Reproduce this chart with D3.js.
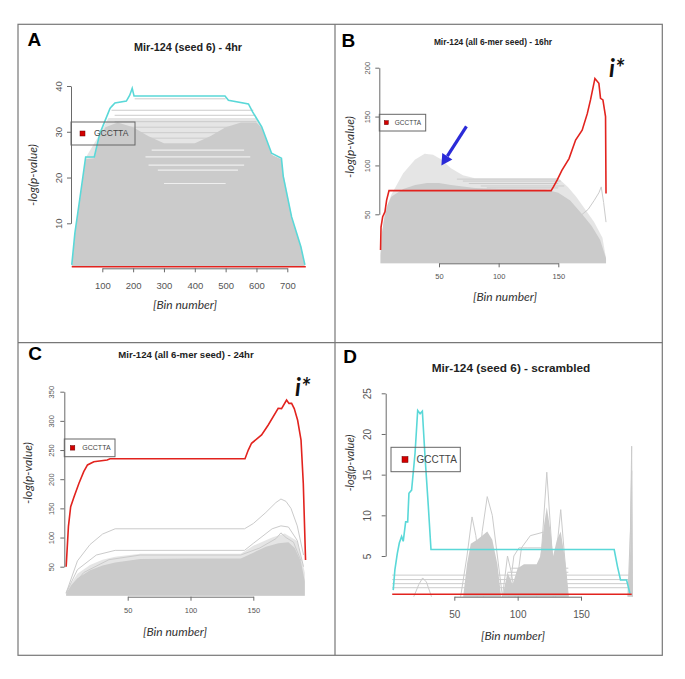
<!DOCTYPE html>
<html>
<head>
<meta charset="utf-8">
<script src="https://cdn.jsdelivr.net/npm/d3@7"></script>
<style>
body { margin: 0; background: #fff; }
</style>
</head>
<body>
<svg id="fig" width="685" height="679"></svg>
<script>

// ---- panel A : Mir-124 (seed 6) - 4hr ----
var aRed = [[1, 0.5], [760, 0.5]];
var aCyan = [[1, 0.9], [11, 7.8], [28, 15.8], [46, 24.5], [74, 24.5], [92, 29.6], [125, 35.1], [130, 35.5], [141, 36.3], [178, 36.7], [189, 38], [197, 39.5], [203, 37.8], [498, 37.8], [509, 36.9], [574, 36.1], [587, 34.4], [617, 31.1], [633, 28.2], [649, 25.3], [681, 24.2], [687, 20.2], [714, 11.4], [744, 4.9], [757, 0.9]];
var aDense = [[1, 0.5], [11, 7.5], [28, 15.5], [46, 24], [74, 24.2], [92, 29], [110, 31], [150, 32], [200, 31], [250, 29], [300, 27.5], [400, 27.5], [450, 29], [500, 31], [550, 32], [600, 32], [617, 30.8], [633, 28], [649, 25], [681, 24], [687, 20], [714, 11.2], [744, 4.8], [757, 0.5]];
var aSparse = [[1, 0.5], [46, 24.3], [92, 29.5], [120, 33], [600, 33], [617, 31], [650, 25.2], [690, 20], [715, 11.3], [745, 4.9], [758, 0.5]];
var aFlat = [[37.2, 205, 500], [34.7, 130, 590], [33.6, 140, 595], [32.2, 140, 600], [31.0, 120, 610], [29.8, 110, 620], [28.6, 100, 630]];
var aGap = [[26.0, 260, 560], [24.5, 240, 580], [22.7, 250, 560], [21.6, 280, 540], [18.7, 300, 500]];

// ---- panel B : Mir-124 (all 6-mer seed) - 16hr ----
var bRed = [[1, 13.5], [1.4, 37], [2.8, 47.6], [4.7, 52.6], [6.1, 64.6], [8.1, 74.2], [144, 74.2], [146, 78.3], [149, 85], [153, 95], [159, 107], [164.5, 126], [170, 136], [174.3, 153], [177, 167], [180.7, 189], [184, 184], [185.4, 168.6], [187.4, 167], [189.6, 150], [190, 71.4]];
var bDense = [[1, 8], [2, 30], [4, 45], [7, 60], [10, 68], [20, 76], [30, 80], [40, 82], [50, 82], [60, 80], [80, 77], [100, 76], [140, 75], [150, 72], [160, 64], [170, 50], [178, 38], [185, 24], [190, 5]];
var bSparse = [[1, 10], [4, 50], [10, 70], [20, 92], [30, 106], [38, 112], [45, 111], [52, 106], [60, 97], [70, 90], [80, 87], [150, 87], [158, 78], [165, 68], [172, 56], [180, 42], [187, 26], [190, 5]];
var bFlat = [[86, 65, 150], [84, 70, 152], [81.5, 75, 150], [79, 85, 155], [77, 90, 150]];
var bRise = [[168, 48], [175, 55], [180, 64], [184, 72], [186, 78], [188, 62], [190, 42]];
var bArrow = [[73, 140], [52, 100]];

// ---- panel C : Mir-124 (all 6-mer seed) - 24hr ----
var cRed = [[1, 50], [2.8, 118.7], [4.6, 153], [7.3, 170], [11.2, 193], [15, 213], [18, 224.4], [23, 230], [33.6, 233], [36, 235], [143.4, 235], [146, 250], [148.6, 261.6], [156.6, 275.8], [161.9, 293], [169.8, 321.6], [172.5, 321], [176.5, 335.8], [178.4, 330], [180.5, 330], [182.6, 321], [185.3, 301], [188, 267], [189.8, 193], [191.6, 61.5]];
var cDense = [[1, 3], [5, 18], [10, 30], [20, 44], [30, 52], [40, 57], [50, 60], [60, 63], [100, 64], [140, 64], [150, 74], [160, 84], [170, 90], [178, 92], [183, 82], [188, 58], [191, 25]];
var cSparse = [[1, 8], [10, 38], [20, 53], [30, 62], [40, 67], [60, 72], [140, 72], [150, 86], [165, 100], [175, 107], [185, 94], [191, 40]];
var cLine1 = [[1, 5], [10, 60], [20, 88], [30, 106], [40, 115], [143, 115], [150, 124], [160, 143], [168, 160], [172, 166], [176, 162], [180, 150], [185, 120], [190, 70]];
var cLine2 = [[1, 5], [10, 45], [25, 70], [40, 78], [143, 78], [150, 90], [165, 115], [172, 120], [178, 118], [185, 95], [190, 50]];
var cLine3 = [[1, 4], [15, 40], [35, 62], [60, 70], [140, 70], [155, 82], [168, 98], [172, 108], [176, 100], [182, 92], [188, 60]];

// ---- panel D : Mir-124 (seed 6) - scrambled ----
var dRed = [[1, 0.3], [190, 0.3]];
var dCyan = [[1.8, 0.8], [3.1, 3.3], [5, 5.3], [6.6, 6.6], [8.4, 7.4], [9.7, 6.8], [11.6, 9.2], [13.2, 9.2], [14.2, 12.7], [16.3, 13.1], [19, 17.6], [21.1, 22.9], [23, 22.5], [24.8, 22.8], [26.9, 17.2], [29.5, 11.1], [31.6, 5.8], [176.2, 5.8], [178.8, 3.7], [181.2, 2.05], [186, 2.05], [188.6, 0.4]];
var dFlat = [[2.65, 1, 190], [2.1, 1, 190], [1.6, 1, 190], [1.1, 1, 190], [3.5, 95, 140], [3.0, 92, 140]];
var dDense1 = [[57, 0], [60, 4], [63, 6.5], [68, 7], [72, 7.5], [76, 8], [80, 7], [84, 4], [87, 0]];
var dDense2 = [[88, 0], [92, 3], [96, 1.5], [100, 3.5], [105, 4], [115, 4], [118, 5], [121, 9], [123, 11], [126, 8], [128, 5], [131, 7], [134, 8], [137, 5], [140, 0]];
var dDense3 = [[187, 0], [189, 6], [190, 12], [190.6, 0]];
var dPeaks = [
    [[55, 0], [60, 5], [64, 9.8], [67, 7.5], [70, 4], [73, 0]],
    [[68, 0], [72, 8], [76, 12.3], [80, 10], [84, 5], [88, 0]],
    [[115, 0], [119, 6], [123, 15.3], [127, 6], [130, 0]],
    [[128, 0], [131, 6], [134, 10.7], [137, 5], [140, 0]],
    [[93, 0], [97, 5], [101, 6], [108, 6], [125, 6], [130, 3]],
    [[98, 0], [103, 6], [110, 7.5], [122, 8], [126, 4]],
    [[88, 0], [92, 5], [95, 3], [98, 0]],
    [[18, 0], [22, 1.5], [25, 2.3], [28, 1.8], [32, 0]],
    [[187, 0], [189, 8], [190, 18.5], [190.5, 0]],
    [[188, 0], [190, 15.5], [190.5, 0]]
];

var svg = d3.select("#fig");

var GREY = "#cbcbcb";
var RED = "#e2231e";
var CYAN = "#5ad8d8";

// frame: outer box and the cross
svg.append("rect")
    .attr("x", 18).attr("y", 24.3)
    .attr("width", 644.3).attr("height", 631)
    .attr("fill", "none").attr("stroke", "#777").attr("stroke-width", 1.2);
svg.append("line").attr("x1", 335).attr("x2", 335).attr("y1", 24.3).attr("y2", 655.3)
    .attr("stroke", "#777").attr("stroke-width", 1.2);
svg.append("line").attr("x1", 18).attr("x2", 662.3).attr("y1", 342.7).attr("y2", 342.7)
    .attr("stroke", "#777").attr("stroke-width", 1.2);

function drawPanel(p) {

    var x = d3.scaleLinear().domain(p.xDom).range(p.xPx);
    var y = d3.scaleLinear().domain(p.yDom).range(p.yPx);
    var g = svg.append("g");

    var line = d3.line().x(function (d) { return x(d[0]); }).y(function (d) { return y(d[1]); });
    var area = d3.area()
        .x(function (d) { return x(d[0]); })
        .y0(y(p.base))
        .y1(function (d) { return y(d[1]); });

    if (p.sparse) {
        g.append("path").datum(p.sparse).attr("d", area)
            .attr("fill", GREY).attr("opacity", 0.5);
    }

    (p.flat || []).forEach(function (f) {
        g.append("line")
            .attr("x1", x(f[1])).attr("x2", x(f[2]))
            .attr("y1", y(f[0])).attr("y2", y(f[0]))
            .attr("stroke", GREY).attr("stroke-width", 1);
    });

    (p.lines || []).forEach(function (l) {
        g.append("path").datum(l).attr("d", line)
            .attr("fill", "none").attr("stroke", GREY).attr("stroke-width", 1);
    });

    (p.dense || []).forEach(function (a) {
        g.append("path").datum(a).attr("d", area).attr("fill", GREY);
    });

    (p.gaps || []).forEach(function (f) {
        g.append("line")
            .attr("x1", x(f[1])).attr("x2", x(f[2]))
            .attr("y1", y(f[0])).attr("y2", y(f[0]))
            .attr("stroke", "#fff").attr("stroke-width", 1.2).attr("opacity", 0.7);
    });

    if (p.cyan) {
        g.append("path").datum(p.cyan).attr("d", line)
            .attr("fill", "none").attr("stroke", CYAN).attr("stroke-width", 1.6);
    }
    g.append("path").datum(p.red).attr("d", line)
        .attr("fill", "none").attr("stroke", RED).attr("stroke-width", 1.6);

    // axes, R style : line from first tick to last tick
    var xa = g.append("g")
        .attr("transform", "translate(0," + p.xAxisY + ")")
        .call(d3.axisBottom(x).tickValues(p.xTicks).tickSize(4).tickSizeOuter(0));
    xa.selectAll("text")
        .attr("y", p.xLabOff)
        .style("font-family", "'Liberation Sans', Arial, sans-serif")
        .style("font-size", p.tickFont + "px")
        .attr("fill", "#555");

    var ya = g.append("g")
        .attr("transform", "translate(" + p.yAxisX + ",0)")
        .call(d3.axisLeft(y).tickValues(p.yTicks).tickSize(4).tickSizeOuter(0));
    ya.selectAll("text")
        .attr("x", null).attr("dy", null)
        .attr("text-anchor", "middle")
        .attr("transform", "translate(" + (-p.yLabOff) + ",0) rotate(-90)")
        .style("font-family", "'Liberation Sans', Arial, sans-serif")
        .style("font-size", p.tickFont + "px")
        .attr("fill", "#555");
    g.selectAll(".domain, .tick line").attr("stroke", "#6a6a6a");

    // titles
    g.append("text")
        .attr("x", p.titleX).attr("y", p.titleY)
        .attr("text-anchor", "middle")
        .style("font-family", "'Liberation Sans', Arial, sans-serif")
        .style("font-weight", "bold")
        .style("font-size", p.titleFont + "px")
        .attr("fill", "#222")
        .text(p.title);

    g.append("text")
        .attr("x", p.letterX).attr("y", p.letterY)
        .style("font-family", "'Liberation Sans', Arial, sans-serif")
        .style("font-weight", "bold")
        .style("font-size", "19px")
        .text(p.letter);

    g.append("text")
        .attr("x", p.xTitle[0]).attr("y", p.xTitle[1])
        .attr("text-anchor", "middle")
        .style("font-family", "Lato, 'Open Sans', sans-serif")
        .style("font-style", "italic")
        .style("font-size", "12px")
        .attr("fill", "#333")
        .text("[Bin number]");

    g.append("text")
        .attr("transform", "translate(" + p.yTitle[0] + "," + p.yTitle[1] + ") rotate(-90)")
        .attr("text-anchor", "middle")
        .style("font-family", "Lato, 'Open Sans', sans-serif")
        .style("font-style", "italic")
        .style("font-size", p.yTitleFont + "px")
        .attr("fill", "#333")
        .text("-log(p-value)");

    // legend (transparent box)
    var L = p.legend;
    g.append("rect")
        .attr("x", L.x).attr("y", L.y).attr("width", L.w).attr("height", L.h)
        .attr("fill", "none").attr("stroke", "#666").attr("stroke-width", 1);
    g.append("rect")
        .attr("x", L.x + L.sq).attr("y", L.y + L.h / 2 - L.s / 2)
        .attr("width", L.s).attr("height", L.s)
        .attr("fill", "#d40000").attr("stroke", "#600").attr("stroke-width", 0.5);
    g.append("text")
        .attr("x", L.x + L.tx).attr("y", L.y + L.h / 2)
        .attr("dy", "0.35em")
        .style("font-family", "'Liberation Sans', Arial, sans-serif")
        .style("font-size", L.font + "px")
        .attr("fill", "#444")
        .text("GCCTTA");

    if (p.istar) {
        g.append("text")
            .attr("x", p.istar[0]).attr("y", p.istar[1])
            .style("font-family", "Lato, 'Open Sans', sans-serif")
            .style("font-weight", "bold")
            .style("font-style", "italic")
            .style("font-size", "24px")
            .attr("fill", "#111")
            .text("i*");
    }

    if (p.arrow) {
        var x0 = x(p.arrow[0][0]), y0 = y(p.arrow[0][1]);
        var x1 = x(p.arrow[1][0]), y1 = y(p.arrow[1][1]);
        var ang = Math.atan2(y1 - y0, x1 - x0);
        var hl = 11, hw = 6;
        var bx = x1 - hl * Math.cos(ang), by = y1 - hl * Math.sin(ang);
        g.append("line")
            .attr("x1", x0).attr("y1", y0).attr("x2", bx).attr("y2", by)
            .attr("stroke", "#2b2bd8").attr("stroke-width", 3.2);
        g.append("path")
            .attr("d", "M" + x1 + "," + y1 +
                "L" + (bx + hw * Math.sin(ang)) + "," + (by - hw * Math.cos(ang)) +
                "L" + (bx - hw * Math.sin(ang)) + "," + (by + hw * Math.cos(ang)) + "Z")
            .attr("fill", "#2b2bd8");
    }
}

var panels = [
    {
        letter: "A", letterX: 27.5, letterY: 45.5,
        title: "Mir-124 (seed 6) - 4hr", titleX: 188, titleY: 50.5, titleFont: 10.8,
        xDom: [100, 700], xPx: [102.3, 287.3], yDom: [10, 40], yPx: [223.3, 86],
        xTicks: [100, 200, 300, 400, 500, 600, 700], yTicks: [10, 20, 30, 40],
        xAxisY: 268.3, yAxisX: 71, xLabOff: 13.5, yLabOff: 9.5, tickFont: 9.5,
        xTitle: [185, 309], yTitle: [37, 175], yTitleFont: 12,
        base: 0.5, red: aRed, cyan: aCyan, dense: [aDense], sparse: aSparse, flat: aFlat, gaps: aGap,
        legend: { x: 71, y: 122, w: 64, h: 23, sq: 9, s: 5, tx: 23, font: 8.5 }
    },
    {
        letter: "B", letterX: 341.5, letterY: 46.5,
        title: "Mir-124 (all 6-mer seed) - 16hr", titleX: 493, titleY: 45, titleFont: 8.4,
        xDom: [50, 150], xPx: [439, 558.3], yDom: [50, 200], yPx: [214.3, 67.7],
        xTicks: [50, 100, 150], yTicks: [50, 100, 150, 200],
        xAxisY: 263.3, yAxisX: 379.3, xLabOff: 10.5, yLabOff: 9, tickFont: 7.5,
        xTitle: [505, 301], yTitle: [354, 147], yTitleFont: 12,
        base: 0, red: bRed, dense: [bDense], sparse: bSparse, flat: bFlat, lines: [bRise],
        istar: [609, 77], arrow: bArrow,
        legend: { x: 379.3, y: 114.3, w: 46.4, h: 16.7, sq: 5, s: 4, tx: 15.5, font: 6.5 }
    },
    {
        letter: "C", letterX: 28.3, letterY: 360,
        title: "Mir-124 (all 6-mer seed) - 24hr", titleX: 186, titleY: 357.5, titleFont: 9.6,
        xDom: [50, 150], xPx: [127.7, 253.3], yDom: [50, 350], yPx: [566.7, 391.7],
        xTicks: [50, 100, 150], yTicks: [50, 100, 150, 200, 250, 300, 350],
        xAxisY: 596.7, yAxisX: 64.3, xLabOff: 11, yLabOff: 10, tickFont: 7.5,
        xTitle: [175, 635.5], yTitle: [32, 473], yTitleFont: 12,
        base: 0, red: cRed, dense: [cDense], sparse: cSparse, lines: [cLine1, cLine2, cLine3],
        istar: [295, 396],
        legend: { x: 64.3, y: 439, w: 50.7, h: 17.7, sq: 6, s: 4.5, tx: 18, font: 7 }
    },
    {
        letter: "D", letterX: 343.3, letterY: 363.3,
        title: "Mir-124 (seed 6) - scrambled", titleX: 511, titleY: 372, titleFont: 11.8,
        xDom: [50, 150], xPx: [454.3, 581], yDom: [5, 25], yPx: [556, 393.3],
        xTicks: [50, 100, 150], yTicks: [5, 10, 15, 20, 25],
        xAxisY: 596.7, yAxisX: 385.7, xLabOff: 14, yLabOff: 14.5, tickFont: 10,
        xTitle: [513, 640], yTitle: [354, 463], yTitleFont: 11,
        base: 0, red: dRed, cyan: dCyan, dense: [dDense1, dDense2, dDense3], flat: dFlat, lines: dPeaks,
        legend: { x: 391, y: 447.3, w: 69.3, h: 24.4, sq: 11, s: 6, tx: 25.5, font: 10 }
    }
];

panels.forEach(drawPanel);

</script>
</body>
</html>
